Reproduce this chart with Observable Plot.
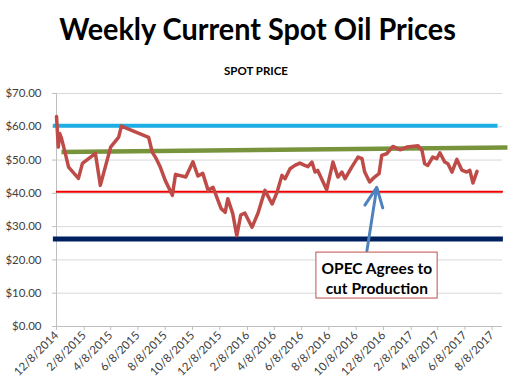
<!DOCTYPE html>
<html>
<head>
<meta charset="utf-8">
<script src="https://cdn.jsdelivr.net/npm/d3@7"></script>
<script src="https://cdn.jsdelivr.net/npm/@observablehq/plot@0.6"></script>
<style>
  body { margin: 0; background: #fff; }
  #wrap { position: relative; width: 520px; height: 390px; overflow: hidden; font-family: Lato, "Open Sans", sans-serif; }
  #title { position: absolute; left: 0; width: 515px; top: 9px; text-align: center; font-weight: 700; font-size: 31px; color: #000; white-space: nowrap; transform: scaleX(0.93); transform-origin: 257px 0; }
  #sub { position: absolute; left: 0; width: 512px; top: 64px; text-align: center; font-weight: 700; font-size: 11.5px; color: #000; }
  #chart { position: absolute; left: 0; top: 0; }
</style>
</head>
<body>
<div id="wrap">
  <div id="chart"></div>
  <div id="title">Weekly Current Spot Oil Prices</div>
  <div id="sub">SPOT PRICE</div>
</div>
<script>
// Weekly spot price
const priceDates = [
  "2014-12-08","2014-12-12","2014-12-15","2014-12-19","2014-12-26","2015-01-04","2015-01-26","2015-02-04",
  "2015-03-05","2015-03-16","2015-04-08","2015-04-26","2015-05-02","2015-07-02","2015-07-10","2015-07-17",
  "2015-07-28","2015-08-08","2015-08-24","2015-08-31","2015-09-23","2015-10-09","2015-10-20","2015-10-31",
  "2015-11-12","2015-11-23","2015-12-11","2015-12-20","2015-12-26","2016-01-06","2016-01-15","2016-01-24",
  "2016-02-02","2016-02-18","2016-03-02","2016-03-18","2016-04-03","2016-04-14","2016-04-25","2016-05-02",
  "2016-05-13","2016-05-24","2016-06-04","2016-06-15","2016-06-22","2016-07-01","2016-07-08","2016-07-14",
  "2016-08-03","2016-08-17","2016-08-28","2016-09-06","2016-09-13","2016-09-28","2016-10-12","2016-10-21",
  "2016-10-27","2016-11-07","2016-11-14","2016-11-23","2016-11-28","2016-12-04","2016-12-15","2016-12-29",
  "2017-01-14","2017-01-29","2017-02-09","2017-02-23","2017-03-04","2017-03-10","2017-03-17","2017-03-28",
  "2017-04-06","2017-04-13","2017-04-24","2017-05-01","2017-05-10","2017-05-21","2017-06-01","2017-06-12",
  "2017-06-19","2017-06-26","2017-07-05"
];
const priceValues = [
  63.1,53.9,58.0,56.6,52.9,47.9,44.5,49.0,
  52.0,42.4,53.9,56.9,60.2,56.8,52.4,50.9,
  47.9,43.9,39.4,45.7,44.9,49.5,45.2,46.0,
  40.9,41.8,35.4,34.3,38.4,33.9,27.3,33.5,
  34.1,29.8,33.9,40.9,36.8,40.3,45.4,44.4,
  47.4,48.4,49.1,48.4,48.0,49.4,46.4,46.9,
  41.1,49.4,44.9,46.4,44.4,47.9,50.9,50.4,
  46.4,43.4,44.4,45.4,45.9,51.4,51.9,54.1,
  53.1,53.9,54.1,54.3,52.9,48.9,48.4,50.9,
  50.4,52.2,49.4,48.9,46.4,50.2,47.0,46.4,
  46.9,43.1,46.6
];

// Reference levels
const highLevel = 60.3;          // light blue
const midLevel = 40.5;           // red
const lowLevel = 26.3;           // navy
const trendStart = {date: "2014-12-19", value: 52.4};
const trendEnd = {date: "2017-09-11", value: 53.8};
const levelStart = "2014-12-01";
const levelEnd = "2017-09-02";

// Axis ticks
const xTickDates = ["2014-12-08","2015-02-08","2015-04-08","2015-06-08","2015-08-08","2015-10-08","2015-12-08",
  "2016-02-08","2016-04-08","2016-06-08","2016-08-08","2016-10-08","2016-12-08","2017-02-08","2017-04-08",
  "2017-06-08","2017-08-08"];
const yTicks = [0,10,20,30,40,50,60,70];

// Annotation
const noteLines = "OPEC Agrees to\ncut Production";
const noteBox = {x1: "2016-07-11", x2: "2017-04-08", y1: 8.4, y2: 22.2};
const noteArrow = {x1: "2016-11-01", y1: 22.8, x2: "2016-11-23", y2: 41.8};

const P = s => new Date(s + "T00:00:00Z");
const prices = priceDates.map((d, i) => ({date: P(d), value: priceValues[i]}));
const xTicks = xTickDates.map(P);

const chart = Plot.plot({
  width: 520,
  height: 390,
  marginLeft: 56,
  marginRight: 18,
  marginTop: 93,
  marginBottom: 64,
  style: {fontFamily: "Lato, 'Open Sans', sans-serif", fontSize: "11px", background: "#fff"},
  x: {type: "utc", domain: [P("2014-12-08"), P("2017-08-31")]},
  y: {domain: [0, 70]},
  marks: [
    Plot.gridY(yTicks.filter(d => d > 0), {stroke: "#D9D9D9", strokeOpacity: 1, strokeWidth: 1}),
    Plot.ruleY([0], {stroke: "#BFBFBF", strokeWidth: 1}),
    Plot.ruleX([P("2014-12-08")], {stroke: "#BFBFBF", strokeWidth: 1}),
    Plot.axisY({ticks: yTicks, tickSize: 4, tickPadding: 11, stroke: "#BFBFBF", fill: "#404040",
      tickFormat: d => "$" + d.toFixed(2), label: null, fontSize: 11.5}),
    Plot.axisX({ticks: xTicks, tickSize: 4, tickPadding: 3, tickRotate: -45, stroke: "#BFBFBF", fill: "#404040",
      tickFormat: d3.utcFormat("%-m/%-d/%Y"), label: null, fontSize: 11.5}),
    Plot.ruleY([highLevel], {x1: P(levelStart), x2: P("2017-08-21"), stroke: "#1DAEE6", strokeWidth: 4}),
    Plot.ruleY([midLevel], {x1: P("2014-12-08"), x2: P(levelEnd), stroke: "#F00000", strokeWidth: 2}),
    Plot.ruleY([lowLevel], {x1: P(levelStart), x2: P(levelEnd), stroke: "#002060", strokeWidth: 5}),
    Plot.link([{x1: P(trendStart.date), y1: trendStart.value, x2: P(trendEnd.date), y2: trendEnd.value}],
      {x1: "x1", y1: "y1", x2: "x2", y2: "y2", stroke: "#77933C", strokeWidth: 4.5}),
    Plot.line(prices, {x: "date", y: "value", stroke: "#BE4B48", strokeWidth: 3.5, strokeLinejoin: "round"}),
    Plot.arrow([noteArrow], {x1: d => P(d.x1), y1: "y1", x2: d => P(d.x2), y2: "y2",
      stroke: "#4F81BD", strokeWidth: 3, headLength: 12, headAngle: 50}),
    Plot.rect([noteBox], {x1: d => P(d.x1), x2: d => P(d.x2), y1: "y1", y2: "y2",
      fill: "#fff", stroke: "#C0504D", strokeWidth: 1}),
    Plot.text([noteLines], {x: P("2016-11-23"), y: 14.8, text: d => d, fontSize: 15.5, fontWeight: 700,
      fill: "#000", lineHeight: 1.3, textAnchor: "middle"})
  ]
});
document.getElementById("chart").appendChild(chart);
</script>
</body>
</html>
